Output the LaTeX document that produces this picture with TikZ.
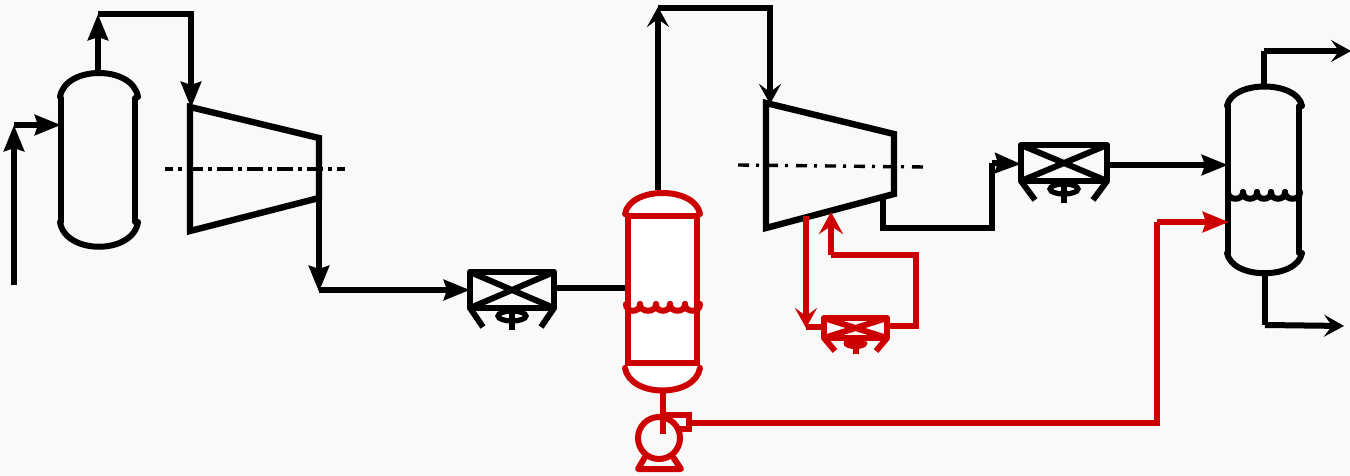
\documentclass[tikz,border=0pt]{standalone}
\usetikzlibrary{arrows.meta}
\definecolor{bgc}{HTML}{F9F9F9}
\definecolor{redc}{HTML}{CC0000}
\tikzset{
  pipe/.style={line width=3pt,line join=miter},
  thick pipe/.style={line width=3.2pt,line join=round,line cap=round},
  heavy tip/.style={-{Stealth[length=13pt,width=10pt,inset=1.5pt]}},
  light tip/.style={-{Stealth[length=10pt,width=11pt,inset=4pt]}},
  axis line/.style={line width=1.7pt,black,dash pattern=on 8pt off 2.5pt on 2pt off 2.5pt,dash phase=4pt},
  axis line two/.style={line width=1.7pt,black,dash pattern=on 5.5pt off 3.5pt on 1.5pt off 4pt},
}
% #1 left, #2 top, #3 right, #4 bottom, #5 leg inset, #6 leg end y, #7 fan radius x, #8 fan radius y, #9 colour
\newcommand\aircooler[9]{
  \pgfmathsetmacro\midx{(#1+#3)/2}
  \pgfmathsetmacro\midy{(#2+#4)/2}
  \pgfmathsetmacro\fany{#4+(#6-#4)*0.42}
  \draw[thick pipe,#9] (#1,#2) rectangle (#3,#4);
  \draw[pipe,#9,line cap=butt] (#1,#2) -- (#3,#4) (#1,#4) -- (#3,#2);
  \draw[pipe,#9,line cap=butt] (#1,#4) -- (#1+#5,#6) (#3,#4) -- (#3-#5,#6);
  \draw[line width=2.6pt,#9] (\midx,\fany) ellipse [x radius=#7,y radius=#8];
  \draw[pipe,#9,line cap=butt] (\midx,\fany-#8) -- (\midx,#6+3);
}
% list of cusps, top y, lower y, colour
\newcommand\scallops[4]{
  \foreach \a/\b in {#1}{
    \draw[line width=3pt,line cap=round,#4] (\a,#2) .. controls (\a-0.5,#3+3) and (\b+0.5,#3+3) .. (\b,#2);
  }
}
\begin{document}
\begin{tikzpicture}[x=0.5pt,y=-0.5pt]
\fill[bgc] (0,0) rectangle (1350,476);
\useasboundingbox (0,0) rectangle (1350,476);

% named points
\coordinate (feed) at (14,285);
\coordinate (feedbend) at (14,125);
\coordinate (vaInlet) at (61,125);
\coordinate (vaTop) at (98,72);
\coordinate (vaUp) at (98,14);
\coordinate (overA) at (191,14);
\coordinate (taIn) at (191,108);
\coordinate (taOut) at (319,198);
\coordinate (taDown) at (319,292);
\coordinate (taRun) at (319,290);
\coordinate (caIn) at (470,290);
\coordinate (caOut) at (556,288);
\coordinate (vrIn) at (626,288);
\coordinate (vrTop) at (658,190);
\coordinate (vrUp) at (658,7);
\coordinate (overStart) at (658,8);
\coordinate (overB) at (770,8);
\coordinate (tbIn) at (770,104);
\coordinate (tbOut) at (883,197);
\coordinate (tbLow) at (883,228);
\coordinate (lowR) at (992,228);
\coordinate (lowUp) at (992,163);
\coordinate (cbIn) at (1021,164);
\coordinate (cbOut) at (1110,165);
\coordinate (vbIn) at (1228,165);
\coordinate (vbTop) at (1264,86);
\coordinate (vbUp) at (1264,51);
\coordinate (vbOut) at (1351,51);
\coordinate (vbBot) at (1265,273);
\coordinate (vbDown) at (1265,325);
\coordinate (vbOut2) at (1344,326);
\coordinate (vrBot) at (663,390);
\coordinate (pumpIn) at (663,434);
\coordinate (pumpOut) at (689,423);
\coordinate (redBend) at (1157,423);
\coordinate (redUp) at (1157,222);
\coordinate (vbRed) at (1229,222);
\coordinate (bleed) at (806,216);
\coordinate (bleedEnd) at (806,328);
\coordinate (bleedRun) at (806,327);
\coordinate (ccIn) at (824,327);
\coordinate (ccOut) at (888,326);
\coordinate (ccR) at (916,326);
\coordinate (ccUp) at (916,255);
\coordinate (ccL) at (831,255);
\coordinate (tbBack) at (831,212);

% first vessel
\draw[pipe,line cap=round] (61,98) -- (61,222) (135,98) -- (135,222);
\draw[pipe,line cap=round] (60,97) .. controls (65,65) and (133,65) .. (138,97);
\draw[pipe,line cap=round] (60,222) .. controls (65,255) and (133,255) .. (138,222);

% compressors
\draw[thick pipe,line join=miter,line cap=butt] (190,107) -- (319,138) -- (319,198) -- (190,231) -- cycle;
\draw[thick pipe,line join=miter,line cap=butt] (766,103) -- (894,134) -- (894,194) -- (766,228) -- cycle;
\draw[axis line] (165,169) -- (345,169);
\draw[axis line two] (738,165) -- (925,167);

% black piping
\draw[pipe,heavy tip] (feed) -- (feedbend);
\draw[pipe,heavy tip] (feedbend) -- (vaInlet);
\draw[pipe,heavy tip] (vaTop) -- (vaUp);
\draw[pipe,heavy tip] (vaUp) -- (overA) -- (taIn);
\draw[pipe,heavy tip] (taOut) -- (taDown);
\draw[pipe,heavy tip] (taRun) -- (caIn);
\draw[pipe] (caOut) -- (vrIn);
\draw[pipe,light tip] (vrTop) -- (vrUp);
\draw[pipe,light tip] (overStart) -- (overB) -- (tbIn);
\draw[pipe] (tbOut) -- (tbLow) -- (lowR) -- (lowUp);
\draw[pipe,heavy tip] (lowUp) -- (cbIn);
\draw[pipe,heavy tip] (cbOut) -- (vbIn);
\draw[pipe] (vbTop) -- (vbUp);
\draw[pipe,light tip] (vbUp) -- (vbOut);
\draw[pipe] (vbBot) -- (vbDown);
\draw[pipe,light tip] (vbDown) -- (vbOut2);

% coolers
\aircooler{470}{272}{554}{308}{13}{327}{14}{5}{black}
\aircooler{1021}{145}{1107}{181}{14}{200}{14}{5}{black}

% product vessel
\draw[pipe,line cap=round] (1228,106) -- (1228,253) (1299,106) -- (1299,253);
\draw[pipe,line cap=round] (1227,106) .. controls (1232,80) and (1297,80) .. (1302,106);
\draw[pipe,line cap=round] (1227,253) .. controls (1232,280) and (1297,280) .. (1302,253);
\scallops{1228/1243,1243/1257,1257/1271,1271/1285,1285/1300}{192}{198}{black}

% red vessel
\fill[white] (627,213) .. controls (632,186) and (693,186) .. (698,213) -- (698,368) .. controls (693,398) and (632,398) .. (627,368) -- cycle;
\draw[pipe,redc,line join=miter] (628,216) rectangle (697,363);
\draw[pipe,redc,line cap=round] (625,214) .. controls (630,186) and (695,186) .. (700,214);
\draw[pipe,redc,line cap=round] (625,368) .. controls (630,398) and (695,398) .. (700,368);
\scallops{626/640,640/656,656/670,670/685,685/700}{304}{310}{redc}

% pump
\draw[pipe,redc] (659,438) circle [radius=21];
\draw[pipe,redc,line join=miter] (662,415) -- (689,415) -- (689,429) -- (677,429);
\draw[pipe,redc] (vrBot) -- (pumpIn);
\draw[pipe,redc,line join=round] (645,457) -- (638,469) -- (681,469) -- (673,457);
\draw[pipe,redc] (pumpOut) -- (redBend) -- (redUp);
\draw[pipe,redc,heavy tip] (redUp) -- (vbRed);

% red bleed loop
\aircooler{824}{318}{887}{338}{11}{351}{9}{3}{redc}
\fill[redc] (844,341) rectangle (866,346);
\draw[pipe,redc,light tip] (bleed) -- (bleedEnd);
\draw[pipe,redc] (bleedRun) -- (ccIn);
\draw[pipe,redc] (ccOut) -- (ccR) -- (ccUp) -- (ccL);
\draw[pipe,redc,-{Stealth[length=11pt,width=12pt,inset=4pt]}] (ccL) -- (tbBack);
\end{tikzpicture}
\end{document}
